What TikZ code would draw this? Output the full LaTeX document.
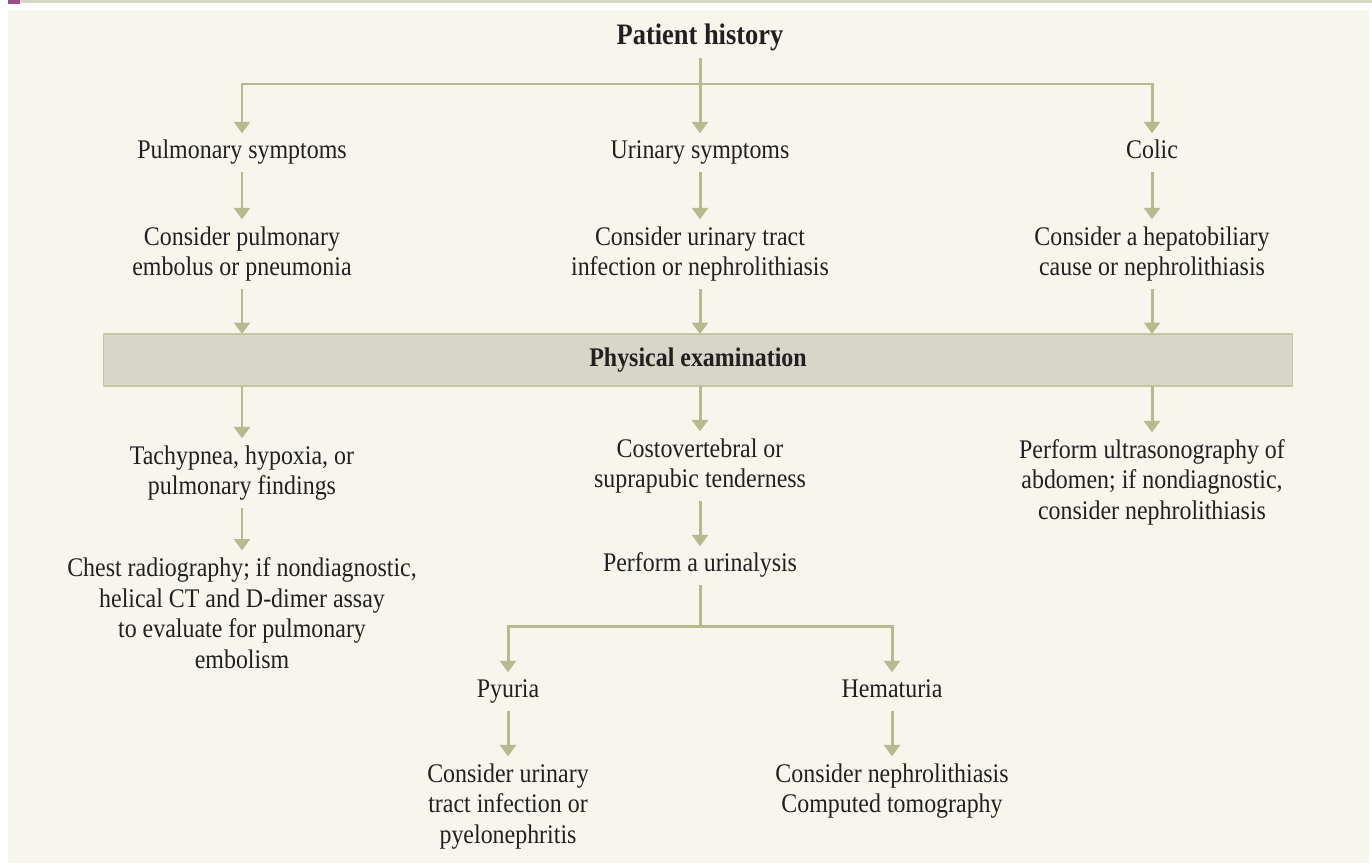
\documentclass[tikz,border=0pt]{standalone}
\usepackage{fontspec}
\setmainfont{Liberation Serif}[FakeStretch=0.89]
\usetikzlibrary{arrows.meta}
\definecolor{cream}{HTML}{F6F6EC}
\definecolor{lncol}{HTML}{B8B98E}
\definecolor{boxfill}{HTML}{D6D6C9}
\definecolor{boxdraw}{HTML}{C4C8A2}
\definecolor{purp}{HTML}{9B4F86}
\definecolor{topbar}{HTML}{D6D6C6}
\definecolor{txtcol}{HTML}{231F20}
\begin{document}
\begin{tikzpicture}[x=0.02cm,y=-0.02cm,
  lbl/.style={align=center, inner sep=0pt, outer ysep=2.3pt, text=txtcol,
    font=\fontsize{15.3}{17.6}\selectfont},
  hdr/.style={lbl, font=\fontsize{16.9}{17.6}\selectfont\bfseries},
  pebox/.style={draw=boxdraw, fill=boxfill, line width=0.6pt, inner sep=0pt, outer sep=0pt,
    minimum width=23.8cm, minimum height=1.04cm, text=txtcol,
    font=\fontsize{15.3}{17.6}\selectfont\bfseries},
  conn/.style={draw=lncol, line width=1.7pt},
  arr/.style={conn, -{Triangle[width=9pt,length=6.5pt]}}]
% background
\useasboundingbox (0,0) rectangle (1372,863);
\fill[white] (0,0) rectangle (1372,863);
\fill[topbar] (20,0) rectangle (1372,3);
\fill[purp] (8,0) rectangle (20,4);
\fill[cream] (8,10) rectangle (1369,863);
% nodes
\node[hdr] (ph) at (700,38.8) {\strut Patient history};
\node[lbl] (pulm) at (242,152.8) {\strut Pulmonary symptoms};
\node[lbl] (urin) at (700,152.8) {\strut Urinary symptoms};
\node[lbl] (colic) at (1152,152.8) {\strut Colic};
\node[lbl] (cpul) at (242,254.3) {\strut Consider pulmonary\\\strut embolus or pneumonia};
\node[lbl] (curi) at (700,254.3) {\strut Consider urinary tract\\\strut infection or nephrolithiasis};
\node[lbl] (chep) at (1152,254.3) {\strut Consider a hepatobiliary\\\strut cause or nephrolithiasis};
\node[pebox] (pe) at (698,360) {Physical examination};
\node[lbl] (tach) at (242,473.3) {\strut Tachypnea, hypoxia, or\\\strut pulmonary findings};
\node[lbl] (costo) at (700,466.3) {\strut Costovertebral or\\\strut suprapubic tenderness};
\node[lbl] (ultra) at (1152,482.8) {\strut Perform ultrasonography of\\\strut abdomen; if nondiagnostic,\\\strut consider nephrolithiasis};
\node[lbl] (chest) at (242,616.3) {\strut Chest radiography; if nondiagnostic,\\\strut helical CT and D-dimer assay\\\strut to evaluate for pulmonary\\\strut embolism};
\node[lbl] (ua) at (700,565.8) {\strut Perform a urinalysis};
\node[lbl] (pyu) at (508,691.8) {\strut Pyuria};
\node[lbl] (hem) at (892,691.8) {\strut Hematuria};
\node[lbl] (cuti) at (508,806.8) {\strut Consider urinary\\\strut tract infection or\\\strut pyelonephritis};
\node[lbl] (cneph) at (892,791.3) {\strut Consider nephrolithiasis\\\strut Computed tomography};
\coordinate (j1) at (700,84);
\coordinate (j2) at (700,626);
% connectors
\draw[arr] (ph) -- (urin);
\draw[arr] (j1) -| (pulm);
\draw[arr] (j1) -| (colic);
\draw[arr] (pulm) -- (cpul);
\draw[arr] (urin) -- (curi);
\draw[arr] (colic) -- (chep);
\draw[arr] (cpul) -- (cpul |- pe.north);
\draw[arr] (curi) -- (curi |- pe.north);
\draw[arr] (chep) -- (chep |- pe.north);
\draw[arr] (pe.south -| tach) -- (tach);
\draw[arr] (pe.south -| costo) -- (costo);
\draw[arr] (pe.south -| ultra) -- (ultra);
\draw[arr] (tach) -- (chest);
\draw[arr] (costo) -- (ua);
\draw[conn] (ua) -- (j2);
\draw[arr] (j2) -| (pyu);
\draw[arr] (j2) -| (hem);
\draw[arr] (pyu) -- (cuti);
\draw[arr] (hem) -- (cneph);
\end{tikzpicture}
\end{document}
